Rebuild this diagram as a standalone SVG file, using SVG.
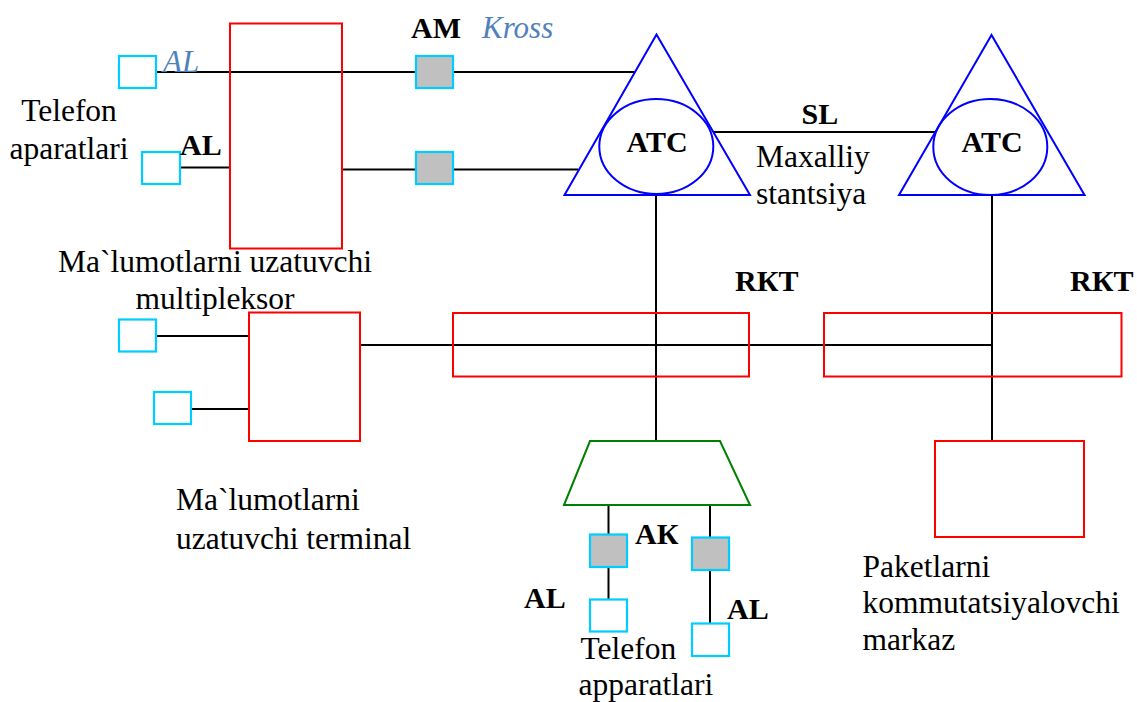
<svg xmlns="http://www.w3.org/2000/svg" width="1137" height="702" viewBox="0 0 1137 702">
<style>
.ln{stroke:#000;stroke-width:2;fill:none}
.red{stroke:#ff0000;stroke-width:2;fill:none}
.cy{stroke:#00ccff;stroke-width:2.2;fill:#fff}
.gr{stroke:#00ccff;stroke-width:2.2;fill:#c0c0c0}
.blu{stroke:#0000ff;stroke-width:2;fill:none}
.grn{stroke:#008000;stroke-width:2;fill:none}
text{font-family:"Liberation Serif","Times New Roman",serif;fill:#000}
.t{font-size:31.5px}
.b{font-size:30px;font-weight:bold}
.it{font-size:31px;font-style:italic;fill:#4f81bd}
</style>
<rect width="1137" height="702" fill="#fff"/>
<g id="connectors">
<line class="ln" x1="156" y1="72" x2="416" y2="72"/>
<line class="ln" x1="453" y1="72" x2="635" y2="72"/>
<line class="ln" x1="180" y1="167.5" x2="230" y2="167.5"/>
<line class="ln" x1="342" y1="169.5" x2="416" y2="169.5"/>
<line class="ln" x1="453" y1="169.5" x2="578" y2="169.5"/>
<line class="ln" x1="714" y1="132" x2="935" y2="132"/>
<line class="ln" x1="656" y1="195" x2="656" y2="441"/>
<line class="ln" x1="992" y1="195" x2="992" y2="441"/>
<line class="ln" x1="156" y1="336" x2="249" y2="336"/>
<line class="ln" x1="191" y1="409" x2="249" y2="409"/>
<line class="ln" x1="360" y1="345" x2="992" y2="345"/>
<line class="ln" x1="608.5" y1="505" x2="608.5" y2="534"/>
<line class="ln" x1="608.5" y1="567" x2="608.5" y2="599"/>
<line class="ln" x1="710" y1="505" x2="710" y2="537"/>
<line class="ln" x1="710" y1="570" x2="710" y2="623"/>
</g>
<g id="phone1"><rect class="cy" x="119" y="56" width="37" height="32"/></g>
<g id="phone2"><rect class="cy" x="142" y="152" width="38" height="32"/></g>
<g id="multiplexor"><rect class="red" x="230" y="23.5" width="112" height="225"/></g>
<g id="kross1"><rect class="gr" x="416" y="56" width="37" height="32"/></g>
<g id="kross2"><rect class="gr" x="416" y="152" width="37" height="32"/></g>
<g id="atc1">
<polygon class="blu" points="656.5,34.5 564.5,195 750,195"/>
<ellipse class="blu" cx="656.3" cy="146.5" rx="57" ry="47.5"/>
<text class="b" x="657" y="152" text-anchor="middle">ATC</text>
</g>
<g id="atc2">
<polygon class="blu" points="991.5,35 899,195 1084.5,195"/>
<ellipse class="blu" cx="990.3" cy="147" rx="57" ry="48"/>
<text class="b" x="992" y="151.5" text-anchor="middle">ATC</text>
</g>
<g id="phone3"><rect class="cy" x="119" y="319.5" width="37" height="32"/></g>
<g id="phone4"><rect class="cy" x="154" y="392" width="37" height="32"/></g>
<g id="terminal"><rect class="red" x="249" y="312.5" width="111" height="128.5"/></g>
<g id="rkt1"><rect class="red" x="453" y="313" width="296" height="63.5"/></g>
<g id="rkt2"><rect class="red" x="824" y="313" width="297.5" height="63.5"/></g>
<g id="packet"><rect class="red" x="935" y="441" width="149" height="96"/></g>
<g id="concentrator"><polygon class="grn" points="590,441 720,441 750,505 564,505"/></g>
<g id="ak1"><rect class="gr" x="590" y="534.5" width="37" height="32.5"/></g>
<g id="ak2"><rect class="gr" x="692" y="537.5" width="37" height="32.5"/></g>
<g id="phone5"><rect class="cy" x="590" y="599.5" width="37" height="32"/></g>
<g id="phone6"><rect class="cy" x="692" y="623.5" width="37" height="32.5"/></g>
<g id="labels">
<text class="it" x="163" y="72">AL</text>
<text class="b" x="180" y="155">AL</text>
<text class="b" x="411" y="38">AM</text>
<text class="it" x="482" y="38">Kross</text>
<text class="t" x="69" y="120.5" text-anchor="middle">Telefon</text>
<text class="t" x="69" y="158.5" text-anchor="middle">aparatlari</text>
<text class="b" x="801.5" y="123.5">SL</text>
<text class="t" x="756" y="166.5">Maxalliy</text>
<text class="t" x="756" y="203.5">stantsiya</text>
<text class="t" x="215" y="271.5" text-anchor="middle">Ma`lumotlarni uzatuvchi</text>
<text class="t" x="215" y="308.5" text-anchor="middle">multipleksor</text>
<text class="b" x="735" y="291">RКT</text>
<text class="b" x="1070" y="291">RКT</text>
<text class="t" x="176" y="510">Ma`lumotlarni</text>
<text class="t" x="176" y="549">uzatuvchi terminal</text>
<text class="b" x="635" y="544">AК</text>
<text class="b" x="524" y="608">AL</text>
<text class="b" x="727" y="618.5">AL</text>
<text class="t" x="580.5" y="658.5">Telefon</text>
<text class="t" x="578.5" y="695">apparatlari</text>
<text class="t" x="862.5" y="577">Paketlarni</text>
<text class="t" x="862.5" y="613">kommutatsiyalovchi</text>
<text class="t" x="862.5" y="649.5">markaz</text>
</g>
</svg>
